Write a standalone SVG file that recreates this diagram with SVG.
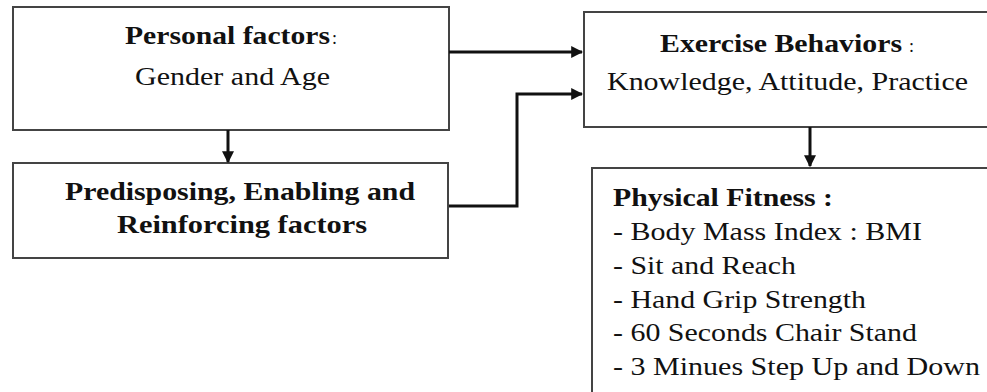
<svg xmlns="http://www.w3.org/2000/svg" width="987" height="392" viewBox="0 0 987 392">
<style>
.box{fill:#fff;stroke:#444;stroke-width:2}
.t{font-family:"Liberation Serif","Times New Roman",serif;font-size:26px;fill:#111}
.b{font-weight:bold}
.c{font-weight:normal;font-size:18px}
.conn{fill:none;stroke:#111;stroke-width:3}
</style>
<defs>
<marker id="ah" viewBox="0 0 10 10" refX="9" refY="5" markerWidth="4" markerHeight="4" markerUnits="strokeWidth" orient="auto">
<path d="M0,0 L10,5 L0,10 z" fill="#111"/>
</marker>
</defs>
<rect width="987" height="392" fill="#fff"/>
<g id="personal">
<rect class="box" x="13" y="7" width="436" height="123"/>
<text class="t b" x="125" y="44" textLength="205" lengthAdjust="spacingAndGlyphs">Personal factors</text>
<text class="t c" x="332" y="44">:</text>
<text class="t" x="135" y="85" textLength="195" lengthAdjust="spacingAndGlyphs">Gender and  Age</text>
</g>
<g id="predisposing">
<rect class="box" x="13" y="163" width="435" height="95"/>
<text class="t b" x="65" y="200" textLength="350" lengthAdjust="spacingAndGlyphs">Predisposing, Enabling and</text>
<text class="t b" x="117" y="233" textLength="250" lengthAdjust="spacingAndGlyphs">Reinforcing factors</text>
</g>
<g id="exercise">
<rect class="box" x="584" y="12" width="420" height="115"/>
<text class="t b" x="660" y="52" textLength="242" lengthAdjust="spacingAndGlyphs">Exercise Behaviors</text>
<text class="t c" x="909" y="52">:</text>
<text class="t" x="607" y="90" textLength="361" lengthAdjust="spacingAndGlyphs">Knowledge, Attitude, Practice</text>
</g>
<g id="fitness">
<rect class="box" x="592" y="168" width="420" height="240"/>
<text class="t b" x="613" y="206" textLength="220" lengthAdjust="spacingAndGlyphs">Physical Fitness :</text>
<text class="t" x="613" y="240" textLength="309" lengthAdjust="spacingAndGlyphs">- Body Mass Index : BMI</text>
<text class="t" x="613" y="274" textLength="183" lengthAdjust="spacingAndGlyphs">- Sit and Reach</text>
<text class="t" x="613" y="308" textLength="253" lengthAdjust="spacingAndGlyphs">- Hand Grip Strength</text>
<text class="t" x="613" y="341" textLength="304" lengthAdjust="spacingAndGlyphs">- 60 Seconds Chair Stand</text>
<text class="t" x="613" y="375" textLength="367" lengthAdjust="spacingAndGlyphs">- 3 Minues Step Up and Down</text>
</g>
<g id="connectors">
<path class="conn" d="M449,52 H582" marker-end="url(#ah)"/>
<path class="conn" d="M449,206 H517 V94 H582" marker-end="url(#ah)"/>
<path class="conn" d="M228,130 V162" marker-end="url(#ah)"/>
<path class="conn" d="M810,127 V166" marker-end="url(#ah)"/>
</g>
</svg>
